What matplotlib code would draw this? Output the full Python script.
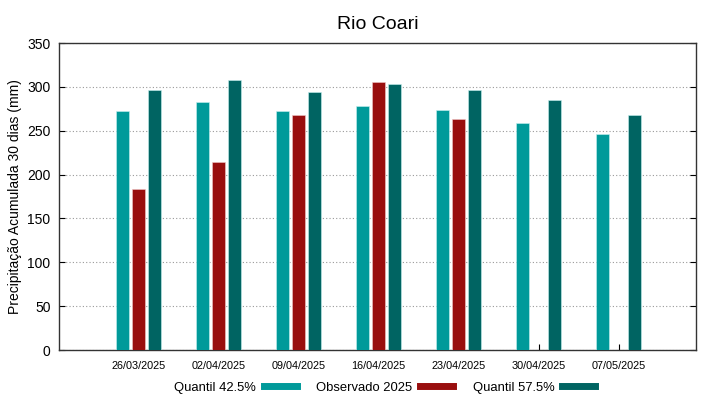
import matplotlib
matplotlib.use("Agg")
from matplotlib import pyplot as plt
from matplotlib.transforms import ScaledTranslation
from matplotlib.lines import Line2D
import numpy as np

plt.rcParams['font.family'] = ['Liberation Sans', 'DejaVu Sans']

datas = ['26/03/2025', '02/04/2025', '09/04/2025', '16/04/2025',
         '23/04/2025', '30/04/2025', '07/05/2025']
q425 = [272, 283, 272, 278.5, 273.5, 259, 246.5]
obs2025 = [184, 214.5, 268.5, 305.5, 263.5, np.nan, np.nan]
q575 = [296.5, 307.5, 294.5, 303.5, 297, 285.5, 268.5]

cor_q425 = '#009a9a'
cor_obs = '#990e0e'
cor_q575 = '#006462'

fig = plt.figure(figsize=(7.19, 3.99), dpi=100)
ax = fig.add_axes([0.082, 0.1228, 0.8867, 0.7692])

x = np.arange(len(datas))
w = 0.158
ax.bar(x - 0.2, q425, w, color=cor_q425, edgecolor='#c8f0f0', linewidth=0.4, zorder=3)
ax.bar(x, obs2025, w, color=cor_obs, edgecolor='#f0c8c8', linewidth=0.4, zorder=3)
ax.bar(x + 0.2, q575, w, color=cor_q575, edgecolor='#c8f0f0', linewidth=0.4, zorder=3)

ax.set_xlim(-0.99, 6.97)
ax.set_ylim(0, 350)
ax.set_yticks(np.arange(0, 351, 50))
ax.set_xticks(x)
ax.set_xticklabels(datas, fontsize=7.8)
off = ScaledTranslation(0.07, 0, fig.dpi_scale_trans)
for lab in ax.get_xticklabels():
    lab.set_transform(lab.get_transform() + off)

ax.tick_params(axis='y', direction='in', right=True, length=4, labelsize=10, pad=6)
ax.tick_params(axis='x', direction='in', length=4, pad=8)
ax.grid(axis='y', linestyle=(0, (1, 2)), color='#999999', linewidth=0.8, zorder=0)
for s in ax.spines.values():
    s.set_color('#333333')
    s.set_linewidth(1)

ax.set_ylabel('Precipitação Acumulada 30 dias (mm)', fontsize=10)
ax.set_title('Rio Coari', fontsize=14, pad=10)

handles = [Line2D([], [], color=c, linewidth=5) for c in (cor_q425, cor_obs, cor_q575)]
fig.legend(handles, ['Quantil 42.5%', 'Observado 2025', 'Quantil 57.5%'],
           loc='center', bbox_to_anchor=(0.535, 0.028), ncol=3, frameon=False,
           markerfirst=False, fontsize=9.4, handlelength=2.55, columnspacing=1.5,
           handletextpad=0.55)

fig.savefig('out.png', dpi=100)
